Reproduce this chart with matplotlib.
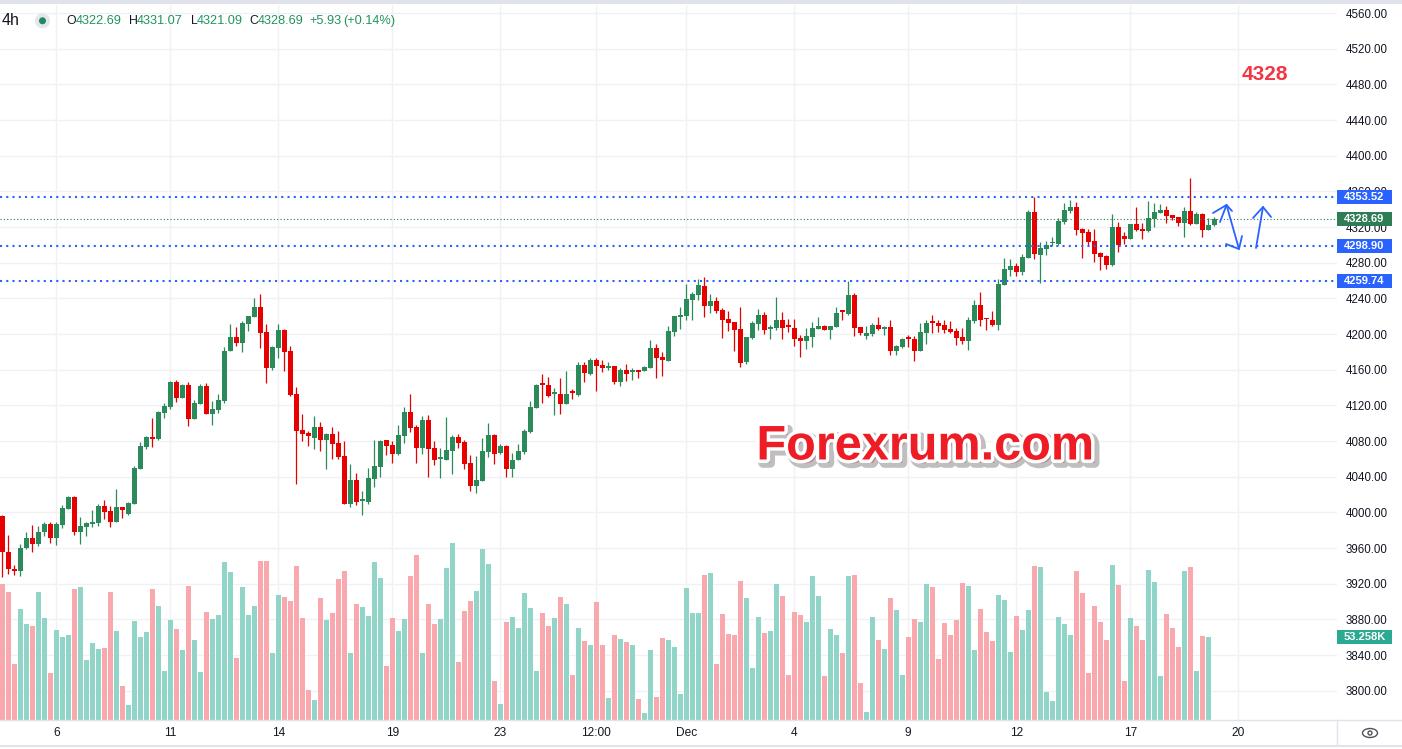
import numpy as np
import matplotlib.pyplot as plt
from matplotlib import patheffects as pe
from matplotlib import transforms as mtrans
from matplotlib.patches import Rectangle, Ellipse

# 4h candles
opens = [3995.5, 3956, 3937, 3934, 3960, 3971.5, 3965, 3977.5, 3987, 3971.5,
         3986, 4004, 4017.5, 3978, 3984, 3987, 3988.4, 4007.4, 4001.8, 3989.5,
         4006.3, 3998.5, 4009.7, 4048.9, 4073.6, 4084.8, 4082.5, 4111.7, 4118.4, 4146.4,
         4128.5, 4143, 4105, 4122, 4142, 4110.6, 4115, 4125, 4180.4, 4197,
         4190, 4211.5, 4219.3, 4230.5, 4202.5, 4162, 4184.6, 4204.7, 4181.2, 4133,
         4092.6, 4089, 4083.7, 4096, 4081.4, 4088, 4078, 4063.5, 4009.7, 4036.6,
         4013, 4012, 4037.7, 4051.2, 4081.4, 4075.8, 4065.7, 4085.9, 4112.8, 4096,
         4072.4, 4103.8, 4072.4, 4060, 4059, 4069, 4084.8, 4079, 4055.6, 4029.8,
         4035.5, 4068, 4087, 4066.8, 4074.7, 4049, 4059, 4068, 4090.4, 4117.3,
         4143.5, 4143, 4133, 4133, 4121.8, 4134.4, 4131.8, 4165.4, 4155.3, 4171,
         4165.4, 4162, 4164.3, 4146.3, 4159.8, 4157.5, 4157.6, 4158.7, 4162, 4184.4,
         4174.3, 4169.9, 4202.4, 4219.2, 4220.3, 4238.3, 4243.9, 4254, 4231.5, 4237.1,
         4227, 4217, 4213.6, 4205.7, 4168.7, 4195.7, 4211.4, 4221.4, 4205.7, 4206.9,
         4215.8, 4208.1, 4206.9, 4195.7, 4192.3, 4196.8, 4205.7, 4209.1, 4204.6, 4208,
         4225, 4222.6, 4243.9, 4208, 4197.9, 4200.1, 4210.2, 4205.7, 4208, 4181.1,
         4185.6, 4194.6, 4194.5, 4181.1, 4201.3, 4212.6, 4212.5, 4210.2, 4205.7, 4203.5,
         4196.8, 4192.3, 4214.7, 4232.6, 4217.1, 4215.8, 4210.2, 4255.1, 4271.9, 4276.4,
         4269.6, 4285.3, 4336.9, 4288.7, 4295.4, 4302, 4301, 4325.7, 4338, 4342.5,
         4317.9, 4314.5, 4304.4, 4291, 4287.6, 4277.5, 4320.1, 4310, 4306.6, 4323.5,
         4317.9, 4315.6, 4329.1, 4335.8, 4339.2, 4333.6, 4331.3, 4324.6, 4338, 4323.5,
         4334.7, 4316.7, 4322.69]
highs = [3997, 3975, 3941, 3965, 3978, 3985.7, 3985, 3989, 3989, 3989,
         4008.5, 4018.6, 4018.6, 3995, 3989.5, 4003, 4009.7, 4014, 4007.4, 4026.5,
         4006.3, 4012, 4052.3, 4079.2, 4085.9, 4106, 4114, 4122.9, 4147.6, 4148.7,
         4144.2, 4146.4, 4126.3, 4144.2, 4145, 4125, 4133, 4185.7, 4211.5, 4208,
         4214.8, 4220.4, 4240.6, 4245, 4211.5, 4186.8, 4211.5, 4205.9, 4186.8, 4140.8,
         4110.6, 4091.5, 4108.3, 4101.6, 4089, 4096, 4091.5, 4080.3, 4054.5, 4044.4,
         4024, 4050, 4081.4, 4081.4, 4081.4, 4080.3, 4098.2, 4118.4, 4133, 4098.2,
         4108.3, 4109.4, 4080.3, 4072.4, 4107.2, 4087, 4088, 4081.4, 4064.6, 4063.5,
         4083.7, 4100.5, 4088, 4077, 4075.8, 4066.8, 4077, 4093.7, 4125.1, 4144.2,
         4155.4, 4152, 4139.7, 4150.9, 4158.8, 4138.6, 4168.7, 4168.7, 4173.2, 4173.2,
         4171, 4168.7, 4164.3, 4162, 4166.5, 4162, 4158.7, 4164.3, 4193.4, 4189,
         4180, 4209.1, 4220.3, 4230.4, 4256.2, 4247.2, 4261.8, 4264, 4245, 4241.6,
         4229.3, 4225.9, 4213.6, 4230.4, 4196.8, 4214.7, 4228.2, 4224.8, 4210.2, 4241.6,
         4224.8, 4217, 4217, 4199, 4206.9, 4213.6, 4219.2, 4210.2, 4209.1, 4230.4,
         4227, 4259.6, 4246.1, 4208, 4209.1, 4212.5, 4219.2, 4209.1, 4215.8, 4187.8,
         4195.7, 4199, 4197.9, 4212.5, 4215.8, 4221.4, 4215.8, 4215.8, 4214.7, 4206.9,
         4206.9, 4219.2, 4238.3, 4247.2, 4218.1, 4225.9, 4261.8, 4285.3, 4284.2, 4279.7,
         4289.8, 4339.2, 4353.7, 4303.3, 4304.4, 4308.9, 4330.2, 4347, 4350.4, 4348.1,
         4319, 4317.9, 4317.9, 4292.1, 4288.7, 4334.7, 4325.7, 4314.5, 4323.5, 4342.5,
         4324.6, 4349.2, 4347, 4345.9, 4343.6, 4333.6, 4331.3, 4342.5, 4375, 4336.9,
         4335.8, 4330.2, 4331.07]
lows = [3928, 3931, 3930, 3929, 3959, 3955.8, 3962, 3974, 3966, 3963.7,
        3982, 4004, 3974.5, 3965, 3973.8, 3984, 3985, 3993, 3983.9, 3989.5,
        3994, 3997.3, 4009.7, 4048.9, 4071.3, 4073.6, 4081.4, 4106, 4116.2, 4124,
        4128.5, 4097, 4105, 4122, 4110.6, 4098, 4111.7, 4122.9, 4180.4, 4186.8,
        4180, 4203.6, 4219.3, 4184.6, 4145.3, 4159.9, 4173.3, 4158.8, 4130.7, 4032,
        4080.3, 4074.7, 4071.3, 4069, 4049, 4060, 4060, 4009.7, 4006.3, 4008.5,
        3997.3, 4009.7, 4028.7, 4040, 4064.6, 4055.6, 4064.6, 4078, 4090.4, 4055.6,
        4065.7, 4040, 4053.4, 4038.8, 4059, 4043.3, 4072.4, 4049, 4024.3, 4022,
        4035.5, 4062.4, 4054.5, 4065.7, 4040, 4040, 4059, 4065.7, 4089.3, 4117.3,
        4122.9, 4129.6, 4109.4, 4110.6, 4121.8, 4127.4, 4130.5, 4146.3, 4154.2, 4136.2,
        4157.5, 4159.8, 4144.1, 4141.8, 4147.4, 4148.6, 4150.8, 4158.7, 4162, 4150.8,
        4153, 4169.9, 4197.9, 4205.7, 4215.8, 4215.8, 4238.3, 4219.2, 4223.7, 4223.7,
        4195.7, 4203.5, 4181.1, 4163.1, 4166.5, 4194.5, 4204.6, 4200.1, 4194.5, 4204.6,
        4194.5, 4202.4, 4186.7, 4174.3, 4183.3, 4185.6, 4205.7, 4204.6, 4194.5, 4208,
        4215.8, 4221.4, 4197.9, 4199, 4194.5, 4197.9, 4204.6, 4199, 4176.6, 4176.6,
        4184.4, 4185.6, 4169.9, 4181.1, 4189, 4201.3, 4202.4, 4201.3, 4201.3, 4187.8,
        4188.9, 4182.2, 4212.5, 4209.1, 4204.6, 4209.1, 4204.6, 4255.1, 4265.2, 4265.2,
        4266.3, 4285.3, 4284.2, 4257.3, 4288.7, 4298.8, 4299.9, 4323.5, 4335.8, 4311.1,
        4285.3, 4298.8, 4280.9, 4271.9, 4273, 4276.4, 4292.1, 4301, 4306.6, 4315.6,
        4306.6, 4314.5, 4320.1, 4335.8, 4324.6, 4328, 4321.2, 4308.9, 4322.3, 4323.5,
        4308.9, 4316.7, 4321.09]
closes = [3955, 3936, 3934, 3960, 3971.5, 3965, 3978, 3987, 3971.5, 3987,
          4005, 4017.5, 3978, 3985, 3988.4, 3989.5, 4007.4, 4000.7, 3989.5, 4006.3,
          4003, 4010.8, 4050, 4074.7, 4084.8, 4082.5, 4112.8, 4119.5, 4146.4, 4128.5,
          4143, 4105, 4122.9, 4142, 4110.6, 4116, 4126.3, 4181, 4197, 4190,
          4212.6, 4220.4, 4230.5, 4201.4, 4162, 4185.7, 4204.7, 4180, 4131.9, 4091.5,
          4088, 4086, 4096, 4081.4, 4088, 4077, 4062.4, 4009.7, 4036.6, 4012,
          4013.5, 4038.8, 4052.3, 4080.3, 4074.7, 4065.7, 4087, 4112.8, 4094.9, 4072.4,
          4103.8, 4071.3, 4059, 4060.2, 4070.2, 4084.8, 4078, 4054.5, 4029.8, 4036.6,
          4069, 4087, 4065.7, 4074.7, 4049, 4059, 4069, 4091.5, 4118.4, 4143,
          4143, 4130.7, 4133.2, 4121.8, 4133, 4134, 4165.4, 4156.4, 4171, 4164.3,
          4162, 4164.3, 4146.3, 4159.8, 4155.3, 4157.6, 4157.5, 4163.1, 4184.4, 4173.2,
          4171, 4203.5, 4220.3, 4221.4, 4239.4, 4245, 4255.1, 4231.5, 4237.1, 4226,
          4215.8, 4212.5, 4204.6, 4167.6, 4196.8, 4212.5, 4221.4, 4204.6, 4208, 4215.8,
          4206.9, 4208, 4194.5, 4192.3, 4197.9, 4206.9, 4209.1, 4204.6, 4209.1, 4223.7,
          4224.8, 4243.9, 4206.9, 4201.3, 4201.3, 4210.2, 4205.7, 4208, 4181.1, 4186.7,
          4194.5, 4194.5, 4181.1, 4202.4, 4212.5, 4212.5, 4209.1, 4204.6, 4202.4, 4195.7,
          4192.3, 4215.8, 4232.6, 4215.8, 4216.9, 4210.2, 4256.2, 4273, 4276.4, 4269.6,
          4286.5, 4336.9, 4289.8, 4296.6, 4299.9, 4302.2, 4326.8, 4339.2, 4342.5, 4316.7,
          4313.4, 4303.3, 4289.8, 4286.5, 4277.5, 4320.1, 4299.9, 4306.6, 4323.5, 4316.7,
          4315.6, 4330.2, 4336.9, 4339.2, 4332.4, 4330.2, 4324.6, 4338, 4323.5, 4334.7,
          4316.7, 4322.3, 4328.69]
# volume in thousands (no bar for the last, still open candle)
volumes = [88.0, 82.6, 36.1, 71.7, 62.0, 60.7, 82.6, 65.8, 30.3, 58.1,
           53.6, 54.9, 84.6, 85.9, 38.7, 49.7, 45.8, 46.5, 82.6, 57.4,
           21.9, 9.7, 63.9, 53.6, 56.8, 84.6, 73.6, 31.6, 64.6, 58.7,
           45.2, 86.5, 51.6, 31.0, 69.7, 65.2, 67.8, 102.0, 95.5, 40.0,
           85.9, 67.8, 73.6, 102.6, 102.6, 43.2, 80.7, 79.4, 76.8, 99.6,
           65.8, 19.4, 12.9, 78.8, 64.6, 69.1, 91.0, 96.2, 43.2, 74.9,
           72.9, 67.1, 102.0, 91.7, 34.9, 65.8, 57.4, 65.2, 93.0, 106.5,
           43.2, 74.9, 62.0, 65.2, 98.1, 114.3, 37.4, 70.4, 76.8, 83.3,
           110.4, 100.7, 25.2, 10.3, 63.3, 66.5, 59.4, 82.0, 72.3, 31.6,
           69.1, 60.7, 65.8, 79.4, 74.9, 29.0, 59.4, 51.0, 48.4, 76.2,
           48.4, 14.2, 54.9, 52.3, 50.3, 48.4, 13.6, 4.5, 45.2, 14.8,
           52.9, 51.6, 47.1, 16.8, 85.2, 69.1, 69.1, 93.6, 94.9, 36.1,
           68.4, 55.5, 54.9, 89.7, 78.8, 33.6, 66.5, 56.2, 57.4, 87.8,
           80.0, 29.0, 69.7, 67.8, 63.3, 93.0, 80.0, 28.4, 58.7, 54.9,
           43.2, 93.0, 93.6, 23.9, 5.2, 66.5, 51.6, 45.8, 78.8, 71.0,
           29.0, 53.6, 65.2, 63.3, 87.8, 85.9, 39.4, 62.6, 54.9, 64.6,
           88.4, 86.5, 45.2, 71.7, 56.8, 51.0, 80.7, 77.5, 43.9, 67.1,
           58.1, 71.0, 99.4, 98.8, 18.1, 12.3, 66.5, 62.0, 54.9, 96.2,
           82.0, 30.3, 73.6, 63.3, 51.6, 100.1, 87.1, 25.2, 65.8, 60.7,
           51.6, 96.8, 89.1, 28.4, 68.4, 59.4, 47.1, 96.2, 98.8, 31.6,
           54.2, 53.258]

tick_pos = [9, 28, 46, 65, 83, 99, 114, 132, 151, 169, 188, 206]
tick_labels = ['6', '11', '14', '19', '23', '12:00', 'Dec', '4', '9', '12', '17', '20']
price_ticks = np.arange(3800, 4561, 40)
levels = [4353.52, 4298.90, 4259.74]
last_price = 4328.69
last_volume = 53.258

GREEN = '#2b8a59'
RED = '#e60000'
VOL_UP = '#91d4c8'
VOL_DN = '#f9a8ad'
BLUE = '#2962ff'
TXT = '#131722'
GRID = '#f0f1f4'
HDR_GREEN = '#22935f'

W, H = 1402, 749
fig = plt.figure(figsize=(W / 100, H / 100), dpi=100)
plt.rcParams['font.family'] = ['Liberation Sans', 'DejaVu Sans']
rect = [0, 29 / H, 1337 / W, 715 / H]
ax = fig.add_axes(rect)
vax = fig.add_axes(rect, sharex=ax)
vax.patch.set_alpha(0)

o = np.array(opens); h = np.array(highs); l = np.array(lows); c = np.array(closes)
idx = np.arange(len(o))
up = c >= o
cols = np.where(up, GREEN, RED)

# price scale: 4560 at y=13px, 0.8917 px per point
ppx = 1 / 0.8917
ax.set_ylim(4560 - (720 - 13) * ppx, 4560 + 8 * ppx)
ax.set_xlim(-2.3 / 6, (1337 - 2.3) / 6)

ax.vlines(idx, l, h, colors=cols, lw=0.9, zorder=3)
body_lo = np.minimum(o, c)
body_h = np.maximum(np.abs(c - o), 1.6)
ax.bar(idx, body_h, bottom=body_lo, width=0.78, color=cols, lw=0, zorder=4)

# volume
vol = np.array(volumes)
vcols = np.where(up[:len(vol)], VOL_UP, VOL_DN)
vax.bar(np.arange(len(vol)), vol, width=0.78, color=vcols, lw=0, zorder=2)
vax.set_ylim(0, 715 * 0.6455)
vax.axis('off')

# grid + axes
ax.set_yticks(price_ticks)
ax.set_yticklabels([f'{v:.2f}' for v in price_ticks])
ax.yaxis.tick_right()
ax.tick_params(axis='y', length=0, pad=6, labelsize=8.3, labelcolor=TXT)
ax.set_xticks(tick_pos)
ax.set_xticklabels(tick_labels)
ax.tick_params(axis='x', length=0, pad=5, labelsize=8.6, labelcolor=TXT)
ax.grid(True, color=GRID, lw=1, zorder=0)
ax.set_axisbelow(True)
for s in ax.spines.values():
    s.set_visible(False)

# levels
for lv in levels:
    ax.axhline(lv, color=BLUE, lw=1.5, ls=(0, (1, 2)), dash_capstyle='butt', zorder=5)
ax.axhline(last_price, color='#2b7a4f', lw=0.8, ls=(0, (1, 2)), zorder=5)

# right-side price labels
bt = mtrans.blended_transform_factory(ax.transAxes, ax.transData)
bw = 55 / 1337
bh = 14 * ppx
for lv, fc in [(levels[0], BLUE), (last_price, '#2e7d55'), (levels[1], BLUE), (levels[2], BLUE)]:
    ax.add_patch(Rectangle((1.0, lv - bh / 2), bw, bh, transform=bt, facecolor=fc,
                           edgecolor='none', clip_on=False, zorder=10))
    ax.text(1.0 + bw / 2, lv, f'{lv:.2f}', transform=bt, ha='center', va='center',
            color='white', fontsize=8, fontweight='bold', zorder=11, clip_on=False)
vt = mtrans.blended_transform_factory(vax.transAxes, vax.transData)
vbh = 14 * 0.6455
vax.add_patch(Rectangle((1.0, last_volume - vbh / 2), bw, vbh, transform=vt,
                        facecolor='#2ba993', edgecolor='none', clip_on=False, zorder=10))
vax.text(1.0 + bw / 2, last_volume, f'{last_volume:.3f}K', transform=vt, ha='center',
         va='center', color='white', fontsize=8, fontweight='bold', zorder=11, clip_on=False)

# hand-drawn blue arrows (pixel points -> data)
def px(x, y):
    return (x - 2.3) / 6, 4560 - (y - 13) * ppx

arrows = [
    [(1220, 222), (1226.5, 205)],
    [(1213, 213), (1226.5, 205), (1232, 211)],
    [(1226.5, 205), (1239, 249)],
    [(1226, 244), (1239, 249), (1242, 236)],
    [(1256, 248), (1263, 207)],
    [(1253, 218), (1263, 207), (1271, 217)],
]
for seg in arrows:
    xs, ys = zip(*[px(*p) for p in seg])
    ax.plot(xs, ys, color=BLUE, lw=1.3, solid_capstyle='round', zorder=6)

# figure decorations
def ftxt(x, y, s, **kw):
    fig.text(x / W, 1 - y / H, s, **kw)

fig.add_artist(Rectangle((0, 1 - 4 / H), 1, 4 / H, transform=fig.transFigure,
                         facecolor='#e0e3eb', edgecolor='none'))
fig.add_artist(plt.Line2D([0, 1], [1 - 720 / H, 1 - 720 / H], color='#e0e3eb', lw=1))
fig.add_artist(plt.Line2D([0, 1], [1 - 746 / H, 1 - 746 / H], color='#e0e3eb', lw=1.5))
fig.add_artist(plt.Line2D([1337 / W, 1337 / W], [1 - 746 / H, 1 - 720 / H], color='#e0e3eb', lw=1))

# header
ftxt(2, 20.5, '4h', fontsize=11.5, color=TXT, va='center')
fig.add_artist(Ellipse((42.5 / W, 1 - 20.8 / H), 15 / W, 15 / H, transform=fig.transFigure,
                       facecolor='#e3e6ea', edgecolor='none'))
fig.add_artist(Ellipse((42.5 / W, 1 - 20.8 / H), 7 / W, 7 / H, transform=fig.transFigure,
                       facecolor='#1f8a5f', edgecolor='none'))
hdr_letters = [(66, 'O'), (128.5, 'H'), (190.5, 'L'), (249, 'C')]
hdr_values = [(121.7, '4322.69'), (183, '4331.07'), (243, '4321.09'), (303, '4328.69'),
              (341.7, '+5.93'), (395, '(+0.14%)')]
for x, s in hdr_letters:
    ftxt(x, 20.7, s, fontsize=8.8, color=TXT, va='center')
for x, s in hdr_values:
    ftxt(x, 20.7, s, fontsize=9.2, color=HDR_GREEN, va='center', ha='right')

ftxt(1265, 75, '4328', fontsize=15, color='#f23645', fontweight='bold', ha='center', va='center')

ftxt(925, 447, 'Forexrum.com', fontsize=35, color='#ee1c25', fontweight='bold',
     ha='center', va='center',
     path_effects=[pe.Stroke(linewidth=7, foreground='#8c8c8c', alpha=0.55, offset=(2.5, -2.5)),
                   pe.Stroke(linewidth=5, foreground='white'),
                   pe.Normal()])

# eye icon
fig.add_artist(Ellipse((1370 / W, 1 - 733 / H), 15 / W, 9 / H, transform=fig.transFigure,
                       facecolor='none', edgecolor='#50535e', lw=1))
fig.add_artist(Ellipse((1370 / W, 1 - 733 / H), 4 / W, 4 / H, transform=fig.transFigure,
                       facecolor='none', edgecolor='#50535e', lw=1))

fig.savefig('out.png', dpi=100, facecolor='white')
